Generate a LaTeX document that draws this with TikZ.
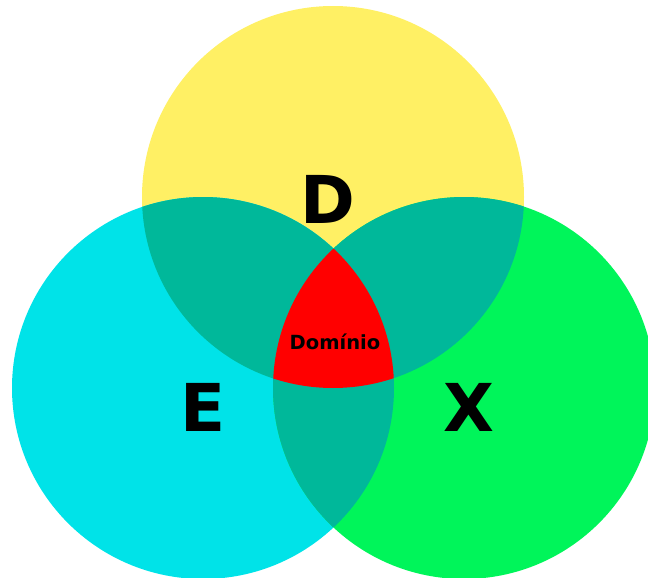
\documentclass[tikz,border=0pt]{standalone}
\usepackage{fontspec}
\setmainfont{DejaVu Sans}
\definecolor{setD}{RGB}{255,240,100}
\definecolor{setE}{RGB}{0,227,232}
\definecolor{setX}{RGB}{0,245,90}
\definecolor{overlap}{RGB}{0,184,154}
\definecolor{core}{RGB}{255,0,0}
\tikzset{
  biglabel/.style={font=\bfseries\fontsize{66}{66}\selectfont, inner sep=0pt, anchor=base},
  smalllabel/.style={font=\bfseries\fontsize{19.5}{20}\selectfont, inner sep=0pt, anchor=base}
}
\begin{document}
\begin{tikzpicture}[x=1pt,y=-1pt]
  \useasboundingbox (0,0) rectangle (648,578);
  \def\rad{191}
  \coordinate (cD) at (333,197);
  \coordinate (cE) at (203,388);
  \coordinate (cX) at (464,388);
  \begin{scope}
    \clip (0,0) rectangle (648,578);
    % the three sets
    \fill[setD] (cD) circle[radius=\rad];
    \fill[setE] (cE) circle[radius=\rad];
    \fill[setX] (cX) circle[radius=\rad];
    % pairwise overlaps
    \begin{scope}
      \clip (cD) circle[radius=\rad];
      \fill[overlap] (cE) circle[radius=\rad];
      \fill[overlap] (cX) circle[radius=\rad];
    \end{scope}
    \begin{scope}
      \clip (cE) circle[radius=\rad];
      \fill[overlap] (cX) circle[radius=\rad];
    \end{scope}
    % common part of all three
    \begin{scope}
      \clip (cD) circle[radius=\rad];
      \clip (cE) circle[radius=\rad];
      \fill[core] (cX) circle[radius=\rad];
    \end{scope}
  \end{scope}
  \node[biglabel] (lD) at (328,223) {D};
  \node[biglabel] (lE) at (203,431) {E};
  \node[biglabel] (lX) at (469,431) {X};
  \node[smalllabel] (lDom) at (335,349) {Domínio};
\end{tikzpicture}
\end{document}
